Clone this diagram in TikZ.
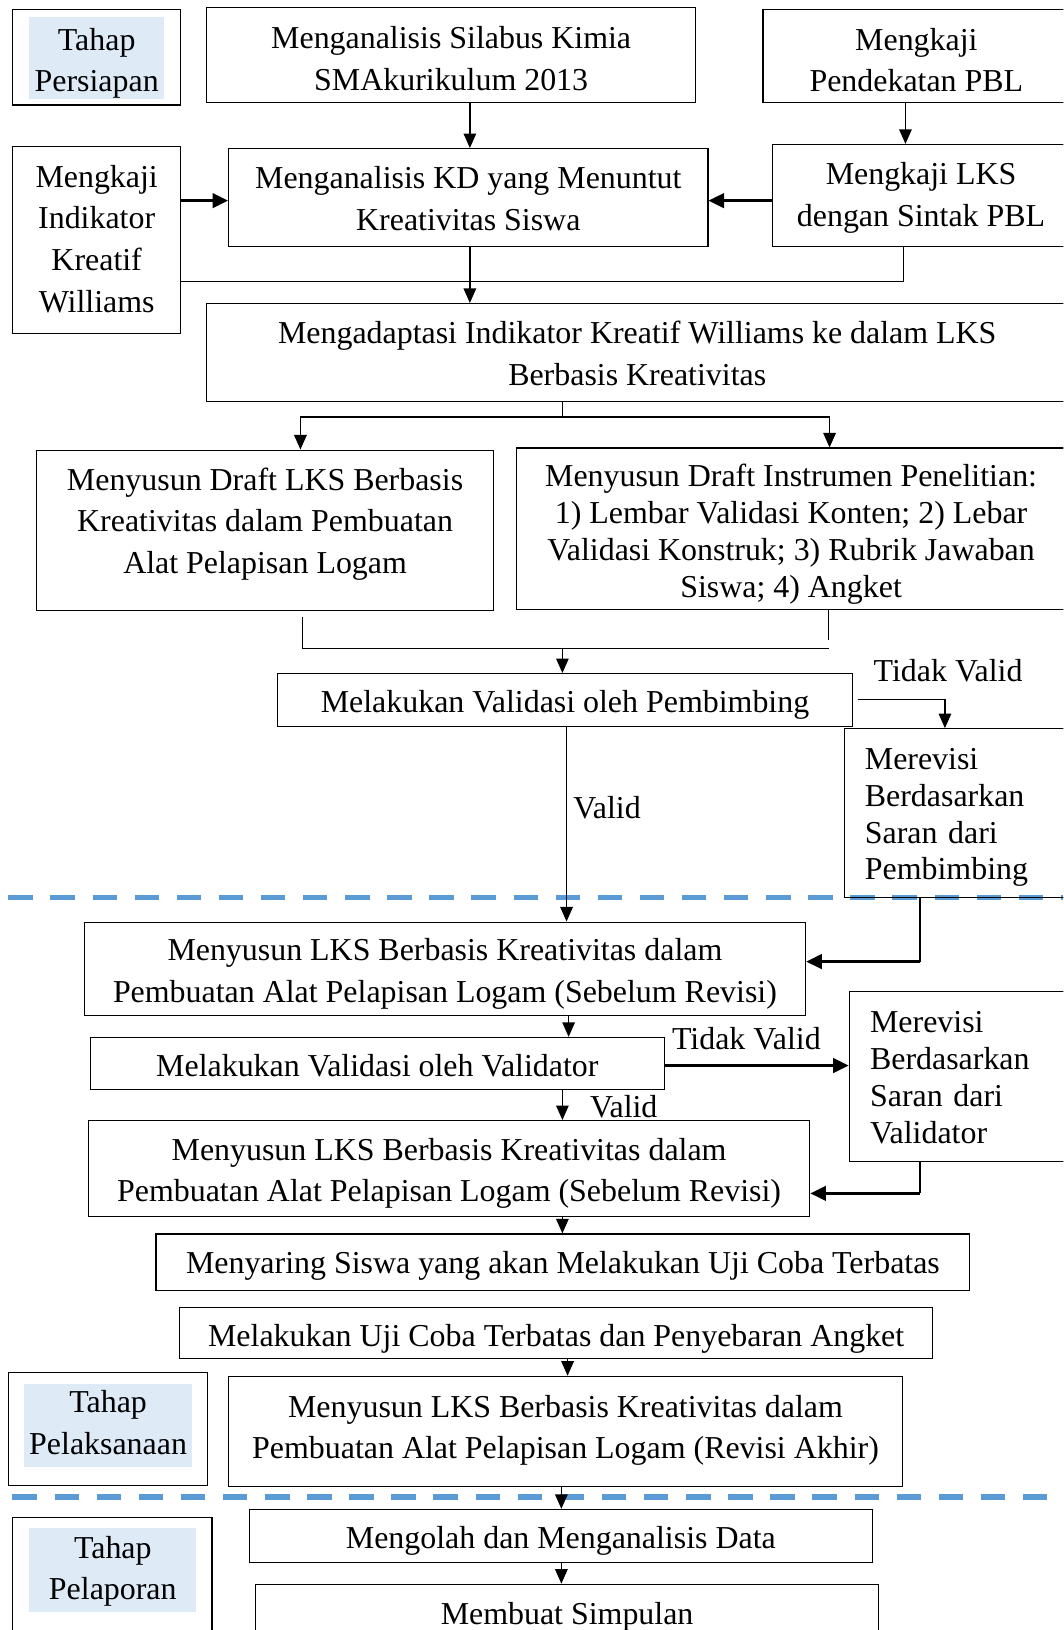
\documentclass[tikz,border=0pt]{standalone}
\usepackage{fontspec}
\setmainfont{Liberation Serif}
\usetikzlibrary{arrows.meta,calc}
\definecolor{tahapfill}{HTML}{DEEBF7}
\definecolor{dashblue}{HTML}{5B9BD5}
\newcommand\myfs{\fontsize{30.7}{40}\selectfont}
\newcommand\myfsb{\fontsize{30.7}{35.5}\selectfont}
\newcommand\mytop[1]{\rule{0pt}{#1pt}}
\begin{document}
\begin{tikzpicture}[x=1pt,y=-1pt,
  bx/.style={draw,line width=1.1pt,inner sep=0pt,align=center,font=\myfs},
  bxb/.style={bx,font=\myfsb},
  revbox/.style={draw,line width=1.1pt,inner xsep=20pt,inner ysep=0pt,align=left,font=\myfsb},
  tahapbox/.style={fill=tahapfill,inner sep=0pt,align=center,font=\myfs},
  lbl/.style={inner sep=0pt,font=\myfs},
  dn/.style={execute at begin node={\rule{0pt}{#1pt}}},
  upd/.style={execute at end node={\rule[-#1pt]{0pt}{0pt}}},
  arr/.style={line width=1.5pt,-{Triangle[length=14pt,width=12pt]}},
  arrT/.style={line width=2.6pt,-{Triangle[length=15pt,width=14pt]}},
  ln/.style={line width=1.1pt},
  lnm/.style={line width=1.4pt},
  sep/.style={dashblue,line width=5pt,dash pattern=on 23.5pt off 17pt}
]
\clip (0,0) rectangle (1023,1568);
\fill[white] (0,0) rectangle (1023,1568);

% separators
\coordinate (s1a) at (8,863); \coordinate (s1b) at (1023,863);
\coordinate (s2a) at (12,1440); \coordinate (s2b) at (1023,1440);
\draw[sep] (s1a) -- (s1b);
\draw[sep] (s2a) -- (s2b);

% Tahap Persiapan
\node[draw,line width=1.1pt,minimum width=162pt,minimum height=92pt,inner sep=0pt] (persO) at (93,55) {};
\node[tahapbox,minimum width=130pt,minimum height=73pt] (pers) at (93,55.5) {\mytop{32}Tahap\\Persiapan};

\node[bx,minimum width=470pt,minimum height=92pt] (silabus) at (434,53) {\mytop{28}Menganalisis Silabus Kimia\\SMAkurikulum 2013};
\node[bx,minimum width=295pt,minimum height=90pt] (pbl) at (881.5,54) {\mytop{29}Mengkaji\\Pendekatan PBL};
\node[bx,upd=3,minimum width=162pt,minimum height=180pt] (indikator) at (93,231) {Mengkaji\\Indikator\\Kreatif\\Williams};
\node[bx,minimum width=461pt,minimum height=94pt] (kd) at (450.5,190) {\mytop{23}Menganalisis KD yang Menuntut\\Kreativitas Siswa};
\node[bx,minimum width=286pt,minimum height=98pt] (lks) at (886,188) {\mytop{26}Mengkaji LKS\\dengan Sintak PBL};
\node[bx,minimum width=828pt,minimum height=94pt] (adaptasi) at (613,339) {\mytop{24}Mengadaptasi Indikator Kreatif Williams ke dalam LKS\\Berbasis Kreativitas};
\node[bx,upd=18.7,minimum width=440pt,minimum height=154pt] (draftlks) at (255,510) {Menyusun Draft LKS Berbasis\\Kreativitas dalam Pembuatan\\Alat Pelapisan Logam};
\node[bxb,minimum width=528pt,minimum height=155pt] (instrumen) at (761,508.5) {\mytop{32}Menyusun Draft Instrumen Penelitian:\\1) Lembar Validasi Konten; 2) Lebar\\Validasi Konstruk; 3) Rubrik Jawaban\\Siswa; 4) Angket};
\node[bx,dn=31,minimum width=553pt,minimum height=51pt] (valpemb) at (543.5,673.5) {Melakukan Validasi oleh Pembimbing};
\node[revbox,dn=29,text width=178pt,minimum height=162pt] (revpemb) at (921,782) {Merevisi\\Berdasarkan\\Saran dari\\Pembimbing};
\node[bx,minimum width=694pt,minimum height=90pt] (lks1) at (428,932) {\mytop{31}Menyusun LKS Berbasis Kreativitas dalam\\Pembuatan Alat Pelapisan Logam (Sebelum Revisi)};
\node[bx,dn=25,minimum width=552pt,minimum height=50pt] (valval) at (363,1023) {Melakukan Validasi oleh Validator};
\node[revbox,dn=23,text width=173pt,minimum height=163pt] (revval) at (923.5,1035.5) {Merevisi\\Berdasarkan\\Saran dari\\Validator};
\node[bx,minimum width=694pt,minimum height=92pt] (lks2) at (432,1124) {\mytop{31}Menyusun LKS Berbasis Kreativitas dalam\\Pembuatan Alat Pelapisan Logam (Sebelum Revisi)};
\node[bx,dn=29,minimum width=783pt,minimum height=54pt] (saring) at (541.5,1214) {Menyaring Siswa yang akan Melakukan Uji Coba Terbatas};
\node[bx,dn=33,minimum width=724pt,minimum height=49pt] (ujicoba) at (535,1282.5) {Melakukan Uji Coba Terbatas dan Penyebaran Angket};

% Tahap Pelaksanaan
\node[draw,line width=1.1pt,minimum width=192pt,minimum height=109pt,inner sep=0pt] (pelakO) at (104,1374.5) {};
\node[tahapbox,upd=5,minimum width=162pt,minimum height=80pt] (pelak) at (104,1371) {Tahap\\Pelaksanaan};
\node[bx,upd=8.7,minimum width=648pt,minimum height=106pt] (revakhir) at (544,1377) {Menyusun LKS Berbasis Kreativitas dalam\\Pembuatan Alat Pelapisan Logam (Revisi Akhir)};

% Tahap Pelaporan
\node[draw,line width=1.1pt,minimum width=192pt,minimum height=120pt,inner sep=0pt] (pelapO) at (108,1520) {};
\node[tahapbox,minimum width=161pt,minimum height=81pt] (pelap) at (108.5,1510.5) {\mytop{23}Tahap\\Pelaporan};
\node[bx,dn=31,minimum width=599pt,minimum height=51pt] (olah) at (539.5,1477.5) {Mengolah dan Menganalisis Data};
\node[bx,dn=25,minimum width=599pt,minimum height=58pt] (simpulan) at (545.5,1553) {Membuat Simpulan};

% labels
\node[lbl] (tv1) at (912,645) {Tidak Valid};
\node[lbl] (v1) at (584,777) {Valid};
\node[lbl] (tv2) at (718,999) {Tidak Valid};
\node[lbl] (v2) at (600,1065) {Valid};

% connectors
\coordinate (xA) at (452,0);
\draw[arr] (silabus.south -| xA) -- (kd.north -| xA);
\coordinate (xB) at (871,0);
\draw[arr] (pbl.south -| xB) -- (lks.north -| xB);
\coordinate (yC) at (0,193);
\draw[arrT] (indikator.east |- yC) -- (kd.west |- yC);
\draw[arrT] (lks.west |- yC) -- (kd.east |- yC);
\draw[arr] (kd.south -| xA) -- (adaptasi.north -| xA);
\coordinate (yD) at (0,271); \coordinate (xD) at (869,0);
\draw[ln] (indikator.east |- yD) -| (lks.south -| xD);

\coordinate (xE) at (541,0); \coordinate (yE) at (0,401);
\coordinate (xF) at (289,0); \coordinate (xG) at (798,0);
\draw[lnm] (adaptasi.south -| xE) -- (yE -| xE);
\draw[lnm] (yE -| xF) -- (yE -| xG);
\draw[arr] (yE -| xF) -- (draftlks.north -| xF);
\draw[arr] (yE -| xG) -- (instrumen.north -| xG);

\coordinate (mL1) at (291,594); \coordinate (mL2) at (291,624);
\coordinate (mR1) at (797,616); \coordinate (mR2) at (797,624);
\coordinate (mC) at (541,624);
\draw[lnm] (mL1) -- (mL2) -- (mR2);
\draw[ln] (instrumen.south -| mR1) -- (mR1);
\draw[arr] (mC) -- (valpemb.north -| mC);

\coordinate (t1) at (825,673); \coordinate (xH) at (909,0);
\draw[arr] (t1) -| (revpemb.north -| xH);
\coordinate (xI) at (545,0);
\draw[arr] (valpemb.south -| xI) -- (lks1.north -| xI);
\coordinate (xJ) at (885,0); \coordinate (yJ) at (0,925);
\draw[ln] (revpemb.south -| xJ) -- (yJ -| xJ);
\draw[arrT] (yJ -| xJ) -- (lks1.east |- yJ);

\coordinate (xK) at (547,0);
\draw[arr] (lks1.south -| xK) -- (valval.north -| xK);
\coordinate (yL) at (0,1025);
\draw[arrT] (valval.east |- yL) -- (revval.west |- yL);
\draw[arr] (valval.south -| xE) -- (lks2.north -| xE);
\coordinate (yM) at (0,1148);
\draw[ln] (revval.south -| xJ) -- (yM -| xJ);
\draw[arrT] (yM -| xJ) -- (lks2.east |- yM);
\draw[arr] (lks2.south -| xE) -- (saring.north -| xE);
\coordinate (xN) at (546,0);
\draw[arr] (ujicoba.south -| xN) -- (revakhir.north -| xN);
\coordinate (xO) at (540,0);
\draw[arr] (revakhir.south -| xO) -- (olah.north -| xO);
\draw[arr] (olah.south -| xO) -- (simpulan.north -| xO);
\end{tikzpicture}
\end{document}
